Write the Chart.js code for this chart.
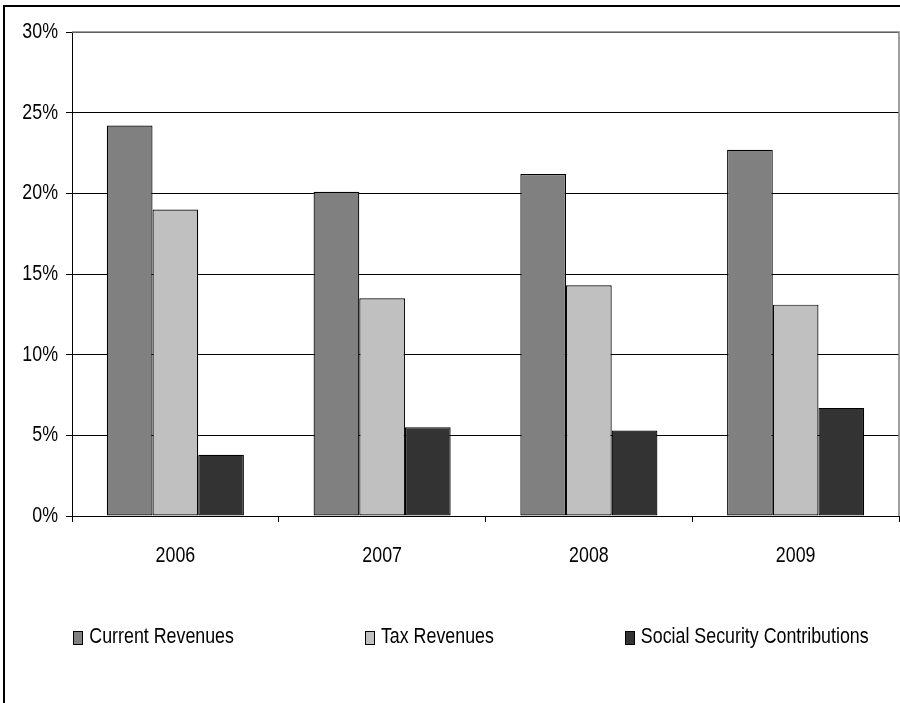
<!DOCTYPE html>
<html>
<head>
<meta charset="utf-8">
<script src="https://cdn.jsdelivr.net/npm/chart.js@4/dist/chart.umd.min.js"></script>
<style>
  html, body { margin: 0; padding: 0; background: #fff; }
  #wrap { position: relative; width: 900px; height: 703px; }
</style>
</head>
<body>
<div id="wrap"><canvas id="c" width="900" height="703"></canvas></div>
<script>
// Revenue shares by year (% of GDP)
const years = ['2006', '2007', '2008', '2009'];
const currentRevenues = [24.2, 20.1, 21.2, 22.7];
const taxRevenues = [19.0, 13.5, 14.3, 13.1];
const socialSecurity = [3.8, 5.5, 5.3, 6.7];
const seriesNames = ['Current Revenues', 'Tax Revenues', 'Social Security Contributions'];
const yTickValues = [0, 5, 10, 15, 20, 25, 30];

const FONT = "'Liberation Sans', Arial, sans-serif";
const FONT_SIZE = 22;
// Narrow lettering: glyphs are squeezed horizontally around their anchor point
const TEXT_SX = 0.81;

const condensedText = {
  id: 'condensedText',
  beforeInit(chart) {
    const ctx = chart.ctx;
    const rawFill = ctx.fillText.bind(ctx);
    ctx.fillText = function (text, x, y, maxWidth) {
      ctx.save();
      ctx.translate(x, y);
      ctx.scale(TEXT_SX, 1);
      rawFill(text, 0, 0);
      ctx.restore();
    };
  }
};

// Outer frame and plot-area border (top and right edges in gray)
const framePlugin = {
  id: 'frame',
  beforeDraw(chart) {
    const ctx = chart.ctx;
    ctx.save();
    ctx.strokeStyle = '#000';
    ctx.lineWidth = 2;
    ctx.beginPath();
    ctx.moveTo(4, 703);
    ctx.lineTo(4, 6);
    ctx.lineTo(900, 6);
    ctx.stroke();
    ctx.restore();
  },
  beforeDatasetsDraw(chart) {
    const a = chart.chartArea;
    const ctx = chart.ctx;
    ctx.save();
    ctx.strokeStyle = '#808080';
    ctx.lineWidth = 1.5;
    ctx.beginPath();
    ctx.moveTo(a.left, a.top);
    ctx.lineTo(a.right, a.top);
    ctx.lineTo(a.right, a.bottom);
    ctx.stroke();
    ctx.restore();
  }
};

// Single-row legend with wide, even spacing between entries
const rowLegend = {
  id: 'rowLegend',
  afterDraw(chart, args, opts) {
    const ctx = chart.ctx;
    ctx.save();
    ctx.font = FONT_SIZE + 'px ' + FONT;
    ctx.textBaseline = 'middle';
    ctx.textAlign = 'left';
    const items = chart.data.datasets.map(ds => ({
      text: ds.label,
      fill: ds.backgroundColor,
      w: ctx.measureText(ds.label).width * TEXT_SX
    }));
    const total = items.reduce((s, it) => s + opts.boxWidth + opts.textGap + it.w, 0)
      + opts.itemGap * (items.length - 1);
    let x = opts.centerX - total / 2;
    items.forEach(it => {
      const bx = Math.round(x);
      const by = Math.round(opts.y - opts.boxHeight / 2);
      ctx.fillStyle = it.fill;
      ctx.fillRect(bx, by, opts.boxWidth, opts.boxHeight);
      ctx.strokeStyle = '#000';
      ctx.lineWidth = 1;
      ctx.strokeRect(bx + 0.5, by + 0.5, opts.boxWidth - 1, opts.boxHeight - 1);
      ctx.fillStyle = '#000';
      ctx.fillText(it.text, x + opts.boxWidth + opts.textGap, opts.y - 1);
      x += opts.boxWidth + opts.textGap + it.w + opts.itemGap;
    });
    ctx.restore();
  }
};

const barStyle = { borderColor: '#000', borderWidth: 1.2, borderSkipped: false };

new Chart(document.getElementById('c'), {
  type: 'bar',
  data: {
    labels: years,
    datasets: [
      Object.assign({ label: seriesNames[0], data: currentRevenues, backgroundColor: '#808080' }, barStyle),
      Object.assign({ label: seriesNames[1], data: taxRevenues, backgroundColor: '#c0c0c0' }, barStyle),
      Object.assign({ label: seriesNames[2], data: socialSecurity, backgroundColor: '#333333' }, barStyle)
    ]
  },
  options: {
    responsive: false,
    animation: false,
    devicePixelRatio: 1,
    layout: { padding: { left: 0, right: 1, top: 32, bottom: 100 } },
    categoryPercentage: 0.663,
    barPercentage: 1.0,
    plugins: {
      legend: { display: false },
      tooltip: { enabled: false },
      rowLegend: { centerX: 471, y: 638, boxWidth: 10, boxHeight: 14, textGap: 6, itemGap: 131 }
    },
    scales: {
      x: {
        offset: true,
        grid: {
          offset: true,
          drawOnChartArea: false,
          drawTicks: true,
          tickLength: 6,
          color: '#000'
        },
        border: { display: true, color: '#000', width: 1 },
        ticks: {
          color: '#000',
          padding: 21,
          maxRotation: 0,
          autoSkip: false,
          font: { family: FONT, size: FONT_SIZE }
        },
        afterFit(scale) { scale.height = 87; }
      },
      y: {
        min: 0,
        max: 30,
        afterBuildTicks(scale) { scale.ticks = yTickValues.map(v => ({ value: v })); },
        grid: {
          color: '#000',
          lineWidth: 1,
          tickLength: 6,
          drawTicks: true
        },
        border: { display: true, color: '#000', width: 1 },
        ticks: {
          color: '#000',
          padding: 8,
          callback: v => v + '%',
          font: { family: FONT, size: FONT_SIZE }
        },
        afterFit(scale) { scale.width = 72; }
      }
    }
  },
  plugins: [condensedText, framePlugin, rowLegend]
});
</script>
</body>
</html>
